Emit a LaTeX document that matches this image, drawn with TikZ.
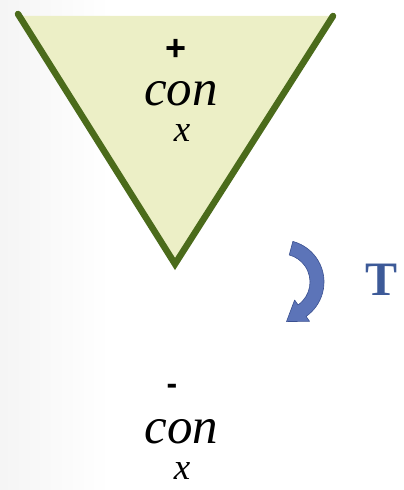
\documentclass[tikz,border=0pt]{standalone}
\usepackage{fontspec}
\setmainfont{Liberation Serif}
\newfontfamily\sansf{Liberation Sans}
\usetikzlibrary{calc}
\definecolor{trifill}{HTML}{ECEFC6}
\definecolor{trigreen}{HTML}{4B6B1B}
\definecolor{arrowblue}{HTML}{5C74B8}
\definecolor{arrowdark}{HTML}{3A5090}
\definecolor{tblue}{HTML}{3D5A98}
\begin{document}
\begin{tikzpicture}[x=1pt,y=1pt,
  bigtxt/.style={inner sep=0pt,anchor=base,font=\fontsize{51}{51}\selectfont\itshape},
  subtxt/.style={inner sep=0pt,anchor=base,font=\fontsize{37}{37}\selectfont\itshape},
  signtxt/.style={inner sep=0pt,font=\sansf\bfseries\fontsize{36}{36}\selectfont},
  side/.style={draw=trigreen,line width=6.5pt,line cap=round}]
\useasboundingbox (0,0) rectangle (404,490);
\shade[left color=black!4,right color=white] (0,0) rectangle (110,490);
% triangle
\coordinate (tl) at (18,476);
\coordinate (tr) at (333,474);
\coordinate (ap) at (175,226);
\fill[trifill] (18,474) -- (333,474) -- (ap) -- cycle;
\draw[side] (tl) -- (ap) -- (tr);
% texts
\node[signtxt] (plus) at (176,440) {+};
\node[bigtxt] (con1) at (181,384) {con};
\node[subtxt] (x1) at (182,348) {x};
\node[signtxt,font=\sansf\bfseries\fontsize{32}{32}\selectfont] (minus) at (172,101) {-};
\node[bigtxt] (con2) at (181.5,46) {con};
\node[subtxt] (x2) at (182,10) {x};
% curved arrow
\coordinate (c) at (282,208);
\fill[arrowblue,draw=arrowdark,line width=0.6pt,line join=round]
  ($(c)+(75:42)$) arc[start angle=75,end angle=-55,radius=42]
  -- ($(c)+(-55:48)$) -- ($(c)+(-55:35)+(-145:19)$) -- ($(c)+(-55:22)$)
  -- ($(c)+(-55:28)$) arc[start angle=-55,end angle=75,radius=28] -- cycle;
\node[inner sep=0pt,anchor=base,text=tblue,font=\bfseries\fontsize{48}{48}\selectfont] (T) at (382,194) {T};
\end{tikzpicture}
\end{document}
